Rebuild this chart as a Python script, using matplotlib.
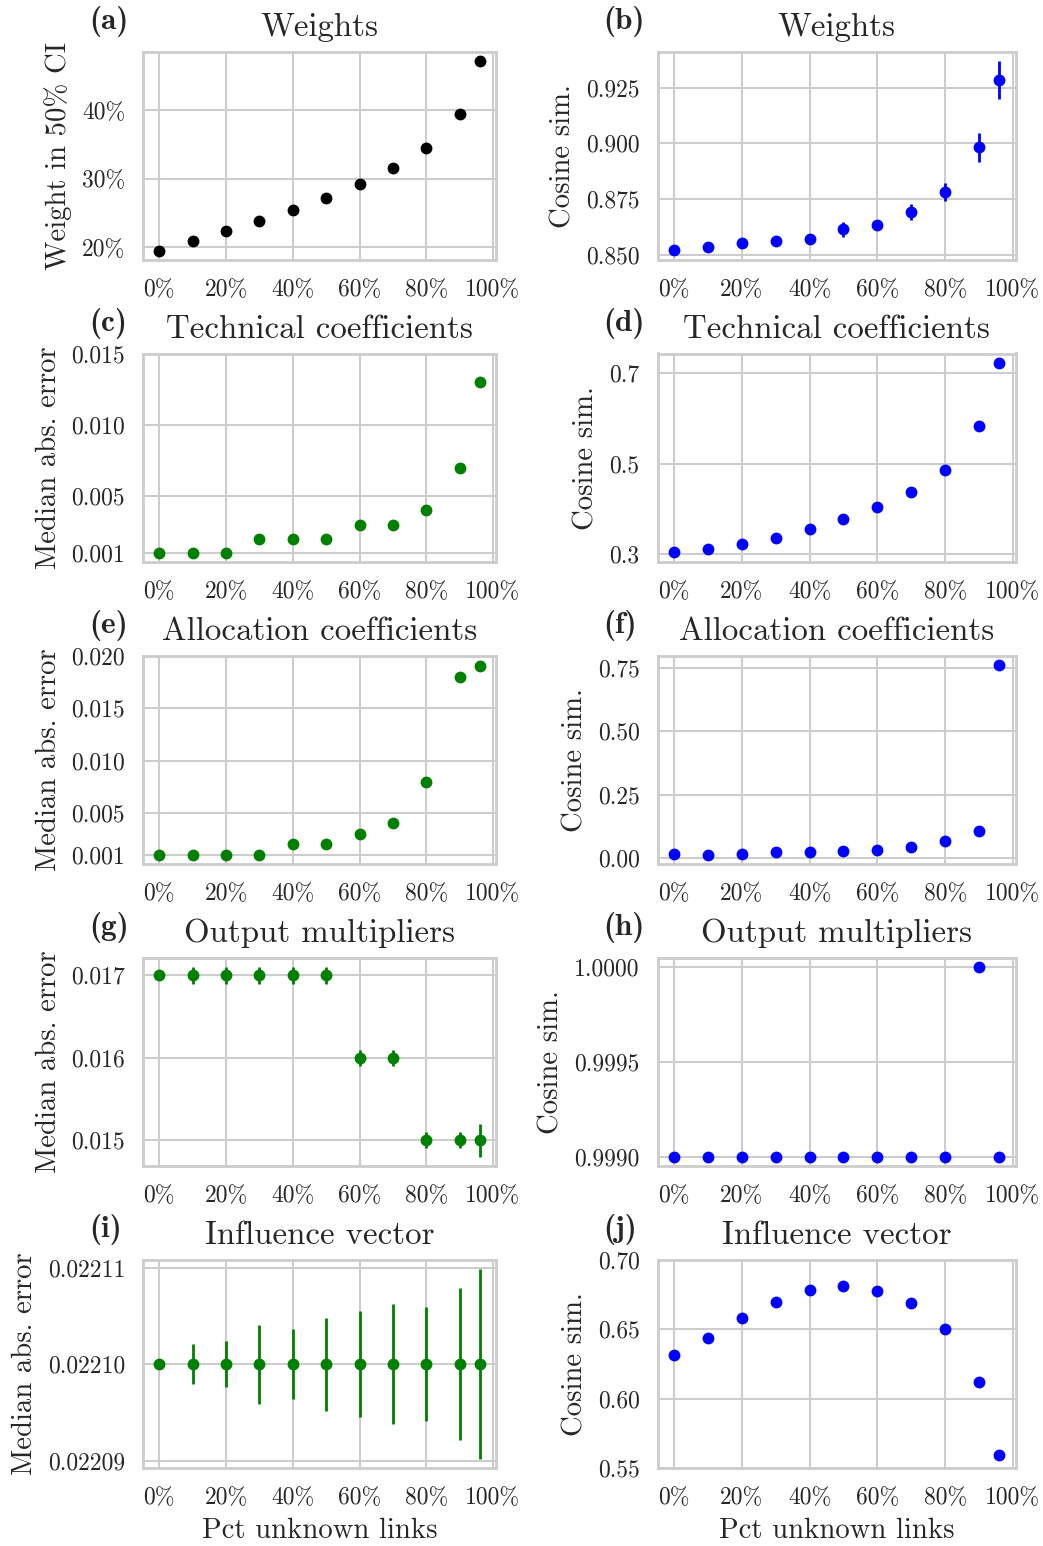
import numpy as np
import matplotlib
matplotlib.use("Agg")
import matplotlib.pyplot as plt
from matplotlib.ticker import FuncFormatter, FixedLocator

# ---------------- data ----------------
pct_unknown = [0, 10, 20, 30, 40, 50, 60, 70, 80, 90, 96]

weights_ci = [0.195, 0.209, 0.2235, 0.239, 0.255, 0.272, 0.292, 0.315, 0.3455, 0.394, 0.471]

weights_cos = [0.8522, 0.8534, 0.8552, 0.8564, 0.8573, 0.8614, 0.8632, 0.8692, 0.8782, 0.8983, 0.9282]
weights_cos_err_lo = [0.0004, 0.0004, 0.0005, 0.0005, 0.0006, 0.0033, 0.0018, 0.0034, 0.0042, 0.0065, 0.0083]
weights_cos_err_hi = [0.0004, 0.0004, 0.0005, 0.0005, 0.0006, 0.0033, 0.0018, 0.0034, 0.0042, 0.0065, 0.0085]

tech_mae = [0.001, 0.001, 0.001, 0.002, 0.002, 0.002, 0.003, 0.003, 0.004, 0.007, 0.013]
tech_cos = [0.3045, 0.311, 0.323, 0.337, 0.356, 0.378, 0.404, 0.437, 0.4866, 0.5836, 0.7231]

alloc_mae = [0.001, 0.001, 0.001, 0.001, 0.002, 0.002, 0.003, 0.004, 0.008, 0.018, 0.019]
alloc_cos = [0.0145, 0.012, 0.017, 0.0225, 0.025, 0.0264, 0.033, 0.0436, 0.066, 0.107, 0.7596]

outmult_mae = [0.017, 0.017, 0.017, 0.017, 0.017, 0.017, 0.016, 0.016, 0.015, 0.015, 0.015]
outmult_mae_err = [0.0, 0.0001, 0.0001, 0.0001, 0.0001, 0.0001, 0.0001, 0.0001, 0.0001, 0.0001, 0.0002]
outmult_cos = [0.9990, 0.9990, 0.9990, 0.9990, 0.9990, 0.9990, 0.9990, 0.9990, 0.9990, 1.0000, 0.9990]

infl_mae = [0.02210] * 11
infl_mae_err = [0.0, 2.1e-6, 2.4e-6, 4.1e-6, 3.6e-6, 4.8e-6, 5.5e-6, 6.2e-6, 5.9e-6, 7.9e-6, 9.8e-6]
infl_cos = [0.6319, 0.644, 0.658, 0.670, 0.6782, 0.681, 0.678, 0.669, 0.650, 0.612, 0.5597]

x_ticks = [0, 20, 40, 60, 80, 100]
panel_labels = ["(a)", "(b)", "(c)", "(d)", "(e)", "(f)", "(g)", "(h)", "(i)", "(j)"]
row_titles = ["Weights", "Technical coefficients", "Allocation coefficients",
              "Output multipliers", "Influence vector"]
xlabel_text = "Pct unknown links"

# ---------------- style ----------------
plt.rcParams.update({
    "font.family": ["cmr10", "DejaVu Serif"],
    "axes.formatter.use_mathtext": True,
    "axes.unicode_minus": False,
    "text.color": "#262626",
    "axes.labelcolor": "#262626",
    "xtick.color": "#262626",
    "ytick.color": "#262626",
    "xtick.major.size": 0,
    "ytick.major.size": 0,
    "xtick.major.pad": 13.5,
    "ytick.major.pad": 13,
    "xtick.labelsize": 17,
    "ytick.labelsize": 17,
    "axes.labelsize": 20.7,
    "axes.labelpad": 7,
    "axes.titlesize": 23.7,
    "axes.titlepad": 11.5,
})

W, H = 1043, 1546
fig = plt.figure(figsize=(W / 100, H / 100), dpi=100)

col_left = [143.3, 657.7]
col_width = [352.4, 358.0]
row_top = [52.0, 353.5, 656.0, 957.7, 1260.0]
ax_h = 208.3

BLUE = "#0000ff"
GREEN = "#008000"
GRID = "#cccccc"
MS = 7.5

axes = []
for r in range(5):
    for c in range(2):
        l = col_left[c] / W
        b = 1 - (row_top[r] + ax_h) / H
        ax = fig.add_axes([l, b, col_width[c] / W, ax_h / H])
        ax.set_facecolor("white")
        ax.grid(True, color=GRID, linewidth=1.45)
        ax.set_axisbelow(True)
        for s in ax.spines.values():
            s.set_color(GRID)
            s.set_linewidth(2.0)
        axes.append(ax)

x = np.array(pct_unknown, dtype=float)

# (a)
ax = axes[0]
ax.plot(x, weights_ci, "o", color="black", ms=MS)
ax.set_ylabel("Weight in 50% CI")
ax.yaxis.set_major_locator(FixedLocator([0.2, 0.3, 0.4]))
ax.yaxis.set_major_formatter(FuncFormatter(lambda v, p: f"{v*100:.0f}%"))

# (b)
ax = axes[1]
ax.errorbar(x, weights_cos, yerr=[weights_cos_err_lo, weights_cos_err_hi], fmt="o",
            color=BLUE, ms=MS, elinewidth=2.0, capsize=0)
ax.set_ylabel("Cosine sim.")
ax.set_yticks([0.85, 0.875, 0.9, 0.925])
ax.yaxis.set_major_formatter(FuncFormatter(lambda v, p: f"{v:.3f}"))

# (c)
ax = axes[2]
ax.plot(x, tech_mae, "o", color=GREEN, ms=MS)
ax.set_ylabel("Median abs. error")
ax.set_yticks([0.001, 0.005, 0.010, 0.015])
ax.yaxis.set_major_formatter(FuncFormatter(lambda v, p: f"{v:.3f}"))

# (d)
ax = axes[3]
ax.plot(x, tech_cos, "o", color=BLUE, ms=MS)
ax.set_ylabel("Cosine sim.")
ax.set_yticks([0.3, 0.5, 0.7])
ax.yaxis.set_major_formatter(FuncFormatter(lambda v, p: f"{v:.1f}"))

# (e)
ax = axes[4]
ax.plot(x, alloc_mae, "o", color=GREEN, ms=MS)
ax.set_ylabel("Median abs. error")
ax.set_yticks([0.001, 0.005, 0.010, 0.015, 0.020])
ax.yaxis.set_major_formatter(FuncFormatter(lambda v, p: f"{v:.3f}"))

# (f)
ax = axes[5]
ax.plot(x, alloc_cos, "o", color=BLUE, ms=MS)
ax.set_ylabel("Cosine sim.")
ax.set_yticks([0.0, 0.25, 0.5, 0.75])
ax.yaxis.set_major_formatter(FuncFormatter(lambda v, p: f"{v:.2f}"))

# (g)
ax = axes[6]
ax.errorbar(x, outmult_mae, yerr=outmult_mae_err, fmt="o", color=GREEN, ms=MS,
            elinewidth=2.0, capsize=0)
ax.set_ylabel("Median abs. error")
ax.set_yticks([0.015, 0.016, 0.017])
ax.yaxis.set_major_formatter(FuncFormatter(lambda v, p: f"{v:.3f}"))

# (h)
ax = axes[7]
ax.plot(x, outmult_cos, "o", color=BLUE, ms=MS)
ax.set_ylabel("Cosine sim.")
ax.set_yticks([0.9990, 0.9995, 1.0000])
ax.yaxis.set_major_formatter(FuncFormatter(lambda v, p: f"{v:.4f}"))

# (i)
ax = axes[8]
ax.errorbar(x, infl_mae, yerr=infl_mae_err, fmt="o", color=GREEN, ms=MS,
            elinewidth=2.0, capsize=0)
ax.set_ylabel("Median abs. error")
ax.set_yticks([0.02209, 0.02210, 0.02211])
ax.yaxis.set_major_formatter(FuncFormatter(lambda v, p: f"{v:.5f}"))

# (j)
ax = axes[9]
ax.plot(x, infl_cos, "o", color=BLUE, ms=MS)
ax.set_ylabel("Cosine sim.")
ax.set_yticks([0.55, 0.60, 0.65, 0.70])
ax.yaxis.set_major_formatter(FuncFormatter(lambda v, p: f"{v:.2f}"))

for i, ax in enumerate(axes):
    ax.set_xticks(x_ticks)
    ax.xaxis.set_major_formatter(FuncFormatter(lambda v, p: f"{v:.0f}%"))
    ax.set_title(row_titles[i // 2])
    ax.text(-0.153, 1.11, panel_labels[i], transform=ax.transAxes,
            fontsize=22.5, fontfamily=["cmb10", "DejaVu Serif"],
            ha="left", va="baseline", color="#262626")
    if i >= 8:
        ax.set_xlabel(xlabel_text, labelpad=6)

fig.savefig("out.png", dpi=100)
